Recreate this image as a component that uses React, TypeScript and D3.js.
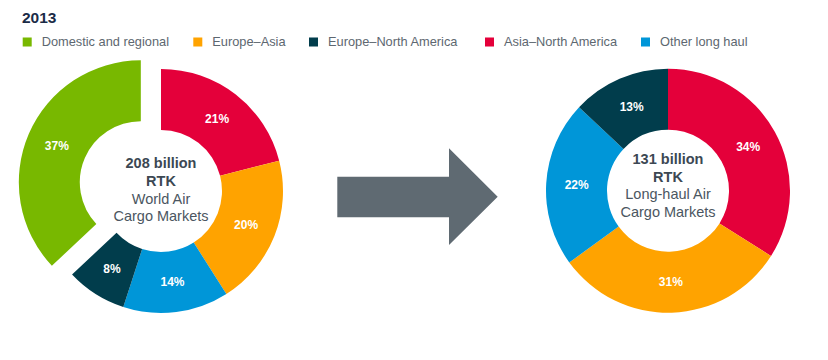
import React, { useEffect, useRef } from "react";
import * as d3 from "d3";

const year = "2013";
const categories = ["Domestic and regional", "Europe–Asia", "Europe–North America", "Asia–North America", "Other long haul"];
const colors = ["#78b800", "#ffa300", "#013d4c", "#e4003a", "#0096d8"];

// slices run clockwise from 12 o'clock
const worldKeys = ["Asia–North America", "Europe–Asia", "Other long haul", "Europe–North America", "Domestic and regional"];
const worldValues = [21, 20, 14, 8, 37];
const worldLines = ["208 billion", "RTK", "World Air", "Cargo Markets"];

const longKeys = ["Asia–North America", "Europe–Asia", "Other long haul", "Europe–North America"];
const longValues = [34, 31, 22, 13];
const longLines = ["131 billion", "RTK", "Long-haul Air", "Cargo Markets"];

const explodedKey = "Domestic and regional";

const FONT = "'Liberation Sans', Arial, Helvetica, sans-serif";

export default function App() {
  const ref = useRef<SVGSVGElement | null>(null);

  useEffect(() => {
    document.body.style.margin = "0";
    const svg = d3.select(ref.current as any);
    svg.selectAll("*").remove();

    const color = d3.scaleOrdinal<string>().domain(categories).range(colors);

    // title + legend
    svg.append("text").attr("x", 22).attr("y", 23)
      .attr("fill", "#1b2b47").style("font-weight", "bold").style("font-size", "15.5px")
      .text(year);

    // legend swatch positions (layout only)
    const legendX = [22.7, 193.3, 309, 485, 641];
    categories.forEach((c, i) => {
      const lx = legendX[i];
      svg.append("rect").attr("x", lx).attr("y", 37.5).attr("width", 9).attr("height", 9).attr("fill", color(c));
      svg.append("text").attr("x", lx + 19).attr("y", 46)
        .attr("fill", "#5d6770").style("font-size", "12.8px").text(c);
    });

    const drawDonut = (cx: number, cy: number, keys: string[], values: number[], lines: string[], textTop: number) => {
      const rOut = 122;
      const rIn = 61;
      const data = keys.map((k, i) => ({ key: k, value: values[i] }));
      const pie = d3.pie<any>().value((d: any) => d.value).sort(null);
      const arc = d3.arc<any>().innerRadius(rIn).outerRadius(rOut);
      const g = svg.append("g").attr("transform", `translate(${cx},${cy})`);
      const slices = g.selectAll("g.slice").data(pie(data)).enter().append("g")
        .attr("class", "slice")
        .attr("transform", (d: any) => {
          if (d.data.key !== explodedKey) return null;
          const a = (d.startAngle + d.endAngle) / 2;
          return `translate(${22 * Math.sin(a)},${-22 * Math.cos(a)})`;
        });
      slices.append("path").attr("d", arc).attr("fill", (d: any) => color(d.data.key));
      slices.append("text")
        .attr("transform", (d: any) => {
          const [x, y] = arc.centroid(d);
          return `translate(${x},${y})`;
        })
        .attr("text-anchor", "middle").attr("dy", "0.36em")
        .attr("fill", "#fff").style("font-weight", "bold").style("font-size", "12px")
        .text((d: any) => `${d.data.value}%`);

      lines.forEach((l, i) => {
        g.append("text").attr("x", 0).attr("y", textTop + i * 17.7)
          .attr("text-anchor", "middle")
          .attr("fill", i < 2 ? "#3c4853" : "#4b5661")
          .style("font-weight", i < 2 ? "bold" : "normal")
          .style("font-size", "14.5px")
          .text(l);
      });
    };

    drawDonut(161, 191, worldKeys, worldValues, worldLines, -22.7);
    drawDonut(668, 190.7, longKeys, longValues, longLines, -26.7);

    // arrow
    const pts: [number, number][] = [
      [337.3, 176.7], [449, 176.7], [449, 148.3], [497.7, 196.7],
      [449, 245], [449, 217.3], [337.3, 217.3],
    ];
    svg.append("path").attr("d", d3.line()(pts) + "Z").attr("fill", "#5f6a72");
  }, []);

  return (
    <svg ref={ref} width={828} height={360} style={{ display: "block", fontFamily: FONT, background: "#fff" }} />
  );
}
